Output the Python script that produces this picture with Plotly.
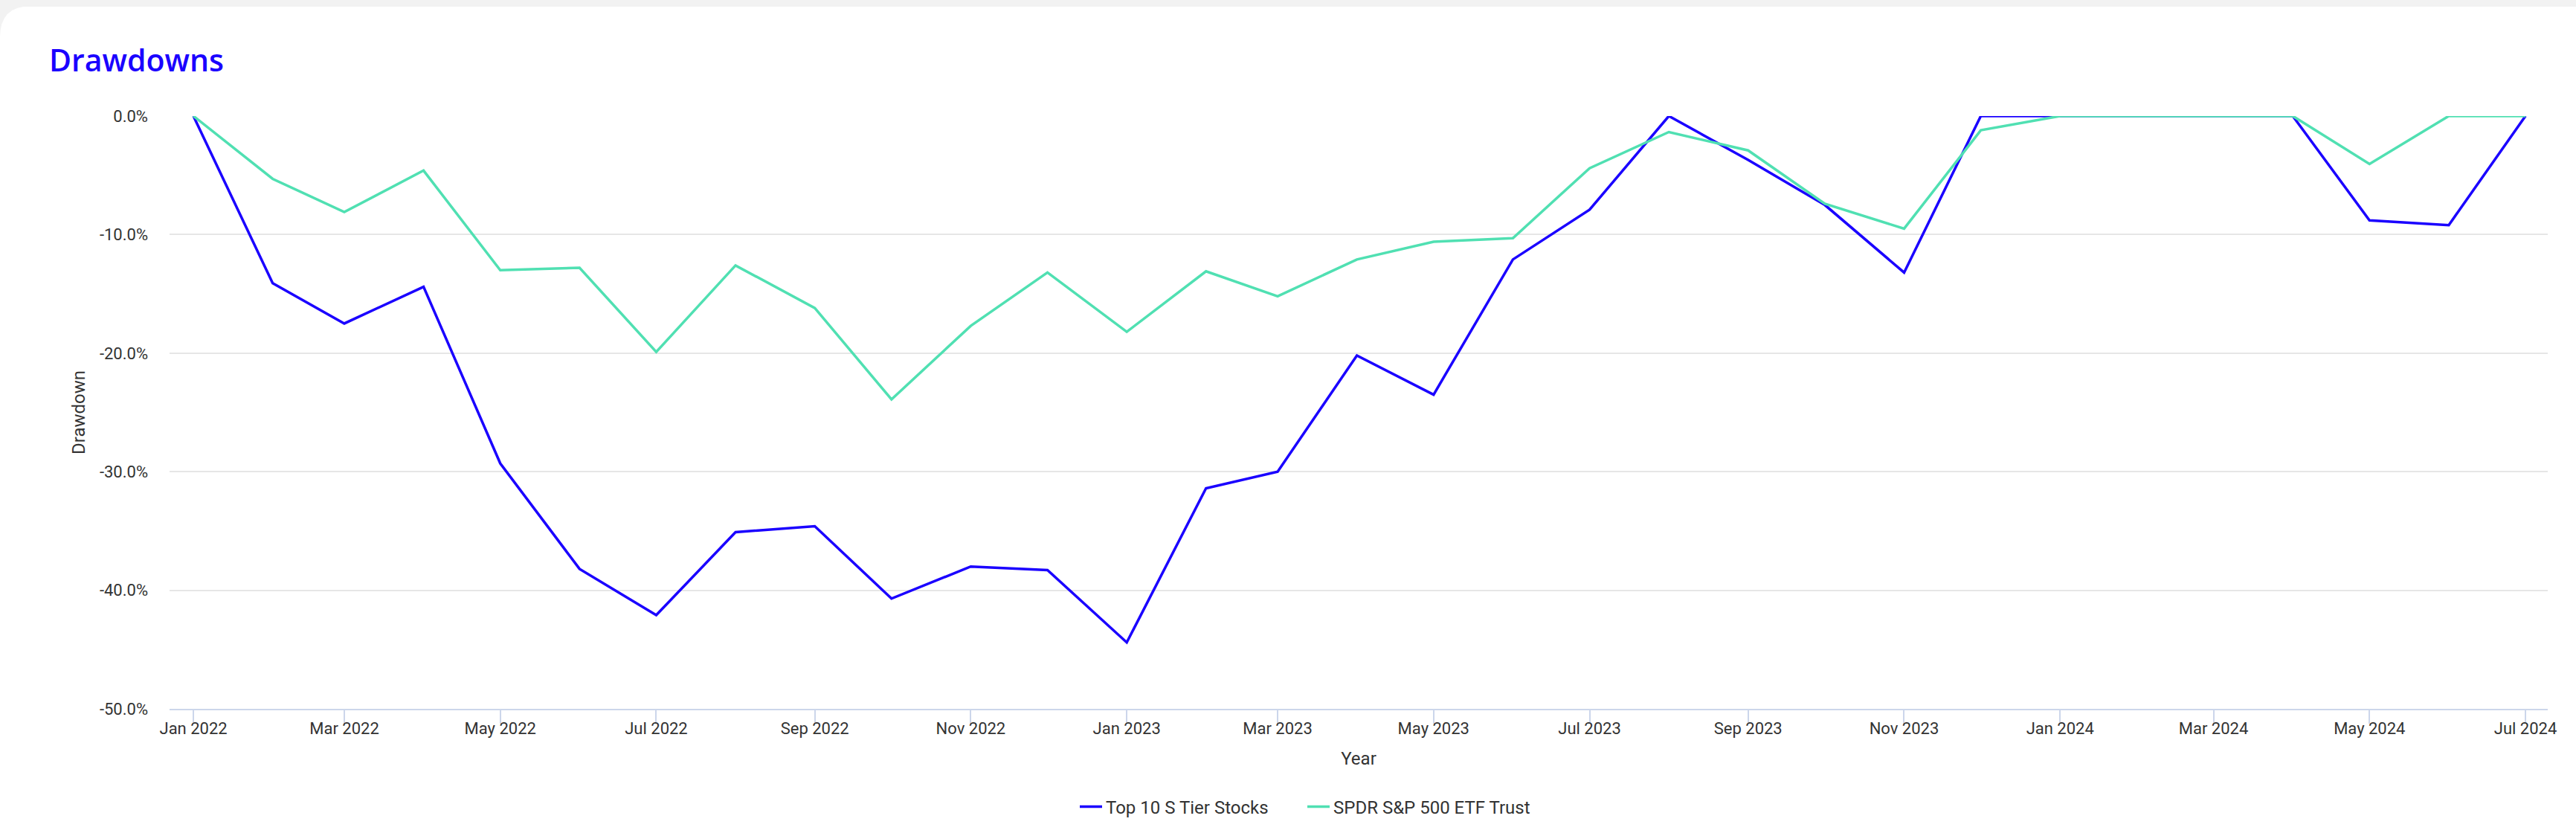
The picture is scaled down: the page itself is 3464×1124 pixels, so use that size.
import plotly.graph_objects as go

W, H = 3464, 1124
L, R, T, B = 228, 3426, 156, 953  # plot area in pixels

months = [
    "2022-01-01", "2022-02-01", "2022-03-01", "2022-04-01", "2022-05-01", "2022-06-01",
    "2022-07-01", "2022-08-01", "2022-09-01", "2022-10-01", "2022-11-01", "2022-12-01",
    "2023-01-01", "2023-02-01", "2023-03-01", "2023-04-01", "2023-05-01", "2023-06-01",
    "2023-07-01", "2023-08-01", "2023-09-01", "2023-10-01", "2023-11-01", "2023-12-01",
    "2024-01-01", "2024-02-01", "2024-03-01", "2024-04-01", "2024-05-01", "2024-06-01",
    "2024-07-01",
]

top10 = [
    0.0, -14.1, -17.5, -14.4, -29.3, -38.2,
    -42.1, -35.1, -34.6, -40.7, -38.0, -38.3,
    -44.4, -31.4, -30.0, -20.2, -23.5, -12.1,
    -7.9, 0.0, -3.7, -7.5, -13.2, 0.0,
    0.0, 0.0, 0.0, 0.0, -8.8, -9.2,
    0.0,
]

spy = [
    0.0, -5.3, -8.1, -4.6, -13.0, -12.8,
    -19.9, -12.6, -16.2, -23.9, -17.7, -13.2,
    -18.2, -13.1, -15.2, -12.1, -10.6, -10.3,
    -4.4, -1.35, -2.9, -7.4, -9.5, -1.2,
    0.0, 0.0, 0.0, 0.0, -4.05, 0.0,
    0.0,
]

y_tickvals = [0, -10, -20, -30, -40, -50]
y_ticktext = ["0.0%", "-10.0%", "-20.0%", "-30.0%", "-40.0%", "-50.0%"]

x_tickvals = ["2022-01-01", "2022-03-01", "2022-05-01", "2022-07-01", "2022-09-01",
              "2022-11-01", "2023-01-01", "2023-03-01", "2023-05-01", "2023-07-01",
              "2023-09-01", "2023-11-01", "2024-01-01", "2024-03-01", "2024-05-01",
              "2024-07-01"]
x_ticktext = ["Jan 2022", "Mar 2022", "May 2022", "Jul 2022", "Sep 2022", "Nov 2022",
              "Jan 2023", "Mar 2023", "May 2023", "Jul 2023", "Sep 2023", "Nov 2023",
              "Jan 2024", "Mar 2024", "May 2024", "Jul 2024"]

BLUE = "#1a00ff"
GREEN = "#50e0b2"
TEXT = "#333333"


def px(x):
    return (x - L) / (R - L)


def py(y):
    return (B - y) / (B - T)


fig = go.Figure()
fig.add_trace(go.Scatter(x=months, y=top10, mode="lines", name="Top 10 S Tier Stocks",
                         line=dict(color=BLUE, width=3.5)))
fig.add_trace(go.Scatter(x=months, y=spy, mode="lines", name="SPDR S&P 500 ETF Trust",
                         line=dict(color=GREEN, width=3.5)))

shapes = [
    # top gray strip
    dict(type="rect", xref="paper", yref="paper", x0=px(0), x1=px(W), y0=py(0), y1=py(9),
         fillcolor="#f2f2f2", line=dict(width=0), layer="below"),
    # top-left rounded corner outside area
    dict(type="path", xref="paper", yref="paper",
         path=f"M {px(0)},{py(8)} L {px(0)},{py(50)} Q {px(0)},{py(8)} {px(42)},{py(8)} Z",
         fillcolor="#f2f2f2", line=dict(width=0), layer="below"),
]

fig.update_layout(
    width=W, height=H,
    margin=dict(l=L, r=W - R, t=T, b=H - B),
    paper_bgcolor="white", plot_bgcolor="white",
    font=dict(family="Roboto", size=22, color=TEXT),
    showlegend=True,
    legend=dict(orientation="h", x=px(1447), xanchor="left", y=py(1085), yanchor="middle",
                font=dict(family="Roboto", size=24, color=TEXT), entrywidth=261,
                bgcolor="rgba(0,0,0,0)"),
    shapes=shapes,
    annotations=[dict(text="Drawdowns", xref="paper", yref="paper", x=px(64), y=py(80),
                      xanchor="left", yanchor="middle", showarrow=False,
                      font=dict(family="Open Sans", size=41, color=BLUE, weight=600))],
    hovermode="x unified",
)

fig.update_xaxes(
    type="date",
    range=["2021-12-22 16:00", "2024-07-09 17:00"],
    tickvals=x_tickvals, ticktext=x_ticktext,
    ticks="outside", ticklen=18, tickwidth=2, tickcolor="#ccd6eb",
    showline=True, linecolor="#ccd6eb", linewidth=2,
    showgrid=False, zeroline=False,
    ticklabelstandoff=-12,
    tickfont=dict(family="Roboto", size=22, color=TEXT),
    title=dict(text="Year", font=dict(family="Roboto", size=24, color=TEXT), standoff=20),
)

fig.update_yaxes(
    range=[-50, 0],
    tickvals=y_tickvals, ticktext=y_ticktext,
    showgrid=True, gridcolor="#e6e6e6", gridwidth=2,
    zeroline=False, showline=False, ticks="",
    ticklabelstandoff=28,
    tickfont=dict(family="Roboto", size=22, color=TEXT),
    title=dict(text="Drawdown", font=dict(family="Roboto", size=24, color=TEXT), standoff=12),
)

fig.write_html("out.html", config={"displayModeBar": False},
               post_script="document.body.style.margin='0';document.body.style.overflow='hidden';")
